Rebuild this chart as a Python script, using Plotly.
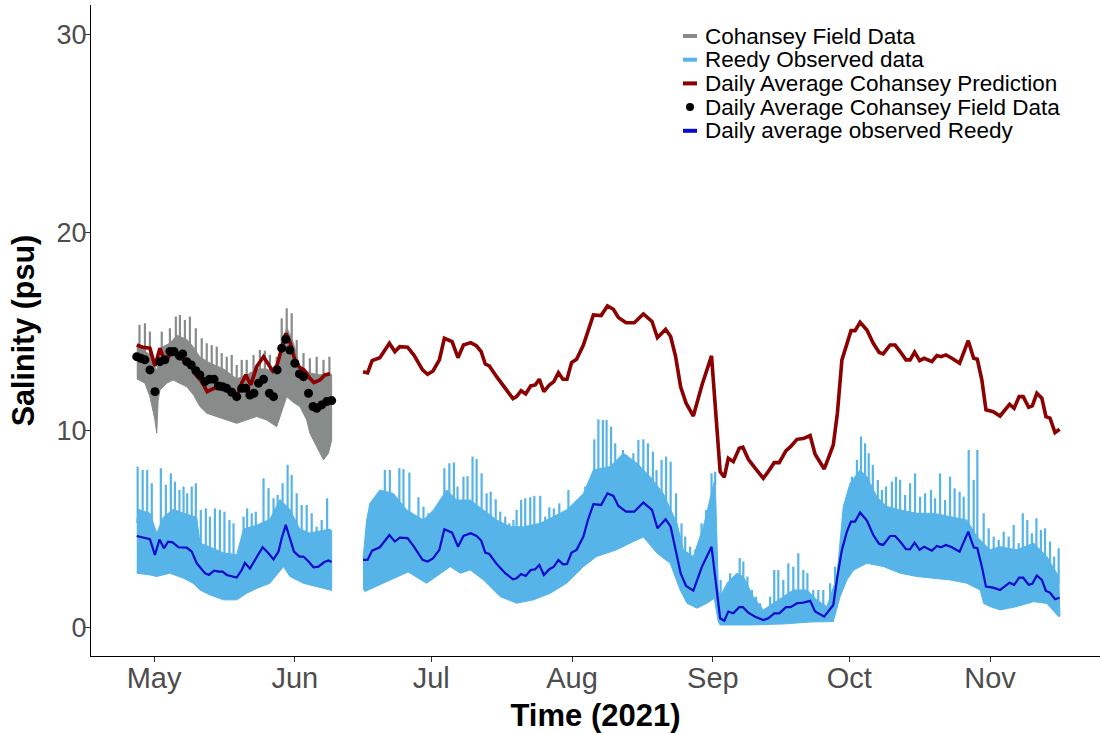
import numpy as np
import pandas as pd
import plotly.graph_objects as go

START = pd.Timestamp("2021-05-01")  # day 0 of all day arrays

# ---------------- Cohansey field data (tidal record, first deployment) ----------------
GRAY_TOP_DAY = [-3.8, -3.5, -0.9, 0.6, 1.7, 3.5, 5.0, 7.2, 8.7, 10.1, 12.3, 15.3, 18.2, 20.4,
                22.6, 24.8, 27.0, 28.1, 29.2, 30.7, 32.1, 34.3, 36.5, 38.7, 39.1]
GRAY_TOP = [14.2, 14.3, 13.8, 13.0, 14.2, 14.4, 14.8, 14.6, 14.2, 13.7, 13.4, 13.1, 12.6, 12.8,
            13.1, 13.1, 12.8, 14.2, 15.2, 14.4, 13.2, 12.9, 12.8, 12.9, 12.8]
GRAY_LOW_DAY = [-3.8, -3.5, -2.0, -0.9, 0.2, 0.6, 0.9, 1.3, 2.8, 4.2, 5.7, 7.2, 8.7, 10.1, 11.6,
                13.8, 16.0, 18.2, 20.4, 22.6, 24.8, 27.0, 29.2, 30.7, 32.1, 33.6, 34.3, 35.8,
                37.3, 38.4, 39.1]
GRAY_LOW = [12.6, 12.54, 12.38, 11.7, 10.52, 9.85, 11.5, 12.03, 12.38, 12.54, 12.38, 12.2, 11.78,
            11.2, 10.86, 10.69, 10.52, 10.35, 10.52, 10.69, 10.52, 10.18, 11.7, 11.4, 11.2, 10.52,
            9.85, 9.17, 8.5, 8.84, 9.5]
GRAY_SPIKE_DAY = [-3.2, -2.0, -0.9, 1.7, 3.5, 4.8, 5.7, 6.8, 7.9, 9.2, 10.5, 11.6, 12.7, 13.8,
                  14.9, 16.0, 17.1, 18.2, 19.3, 20.4, 21.9, 23.3, 24.4, 25.5, 27.0, 28.1, 29.2,
                  30.3, 31.4, 32.9, 34.3, 35.8, 37.3, 38.6]
GRAY_SPIKE_TOP = [15.33, 15.41, 14.99, 14.99, 15.16, 15.75, 15.83, 15.58, 15.75, 15.16, 14.65,
                  14.4, 14.31, 14.23, 13.9, 13.72, 13.81, 13.3, 13.56, 13.56, 13.81, 14.06, 14.02,
                  13.81, 13.72, 15.66, 16.17, 15.92, 14.57, 13.9, 13.64, 13.72, 13.56, 13.72]

# ---------------- Reedy observed data (tidal record) ----------------
REEDY1_LOW_DAY = [-3.8, -0.9, 0.6, 3.5, 6.5, 8.6, 10.1, 12.3, 15.3, 18.2, 20.4, 22.6, 25.5, 28.5,
                  29.9, 32.9, 35.8, 38.7, 39.1]
REEDY1_LOW = [2.77, 2.68, 2.6, 2.77, 2.51, 2.26, 1.92, 1.67, 1.42, 1.42, 1.75, 2.0, 2.26, 3.1,
              2.6, 2.26, 2.09, 1.92, 1.9]
REEDY1_TOP_DAY = [-3.8, -3.5, -0.9, 0.6, 2.05, 4.25, 6.5, 9.4, 10.1, 12.3, 15.3, 18.2, 19.7,
                  22.6, 25.5, 27.7, 29.9, 32.1, 34.3, 36.5, 38.7, 39.1]
REEDY1_TOP = [5.3, 6.0, 5.8, 4.8, 5.6, 6.0, 5.8, 5.6, 4.3, 4.1, 3.8, 3.7, 5.0, 5.2, 5.5, 6.5,
              6.0, 5.0, 4.8, 4.9, 5.0, 4.9]
REEDY1_SPIKE_DAY = [-3.6, -2.5, -1.5, -0.5, 1.5, 2.6, 3.7, 4.6, 5.6, 6.5, 7.3, 8.3, 9.2, 10.3,
                    11.4, 12.3, 13.4, 14.5, 15.5, 16.6, 17.5, 19.7, 20.5, 21.5, 22.4, 24.1, 25.2,
                    26.3, 27.2, 28.3, 29.4, 30.3, 31.4, 32.5, 33.6, 34.7, 35.8, 36.9, 38.1]
REEDY1_SPIKE_TOP = [8.16, 7.99, 7.99, 7.32, 8.08, 7.24, 7.82, 7.4, 6.98, 7.15, 6.81, 7.15, 7.32,
                    5.97, 6.05, 5.63, 6.05, 5.97, 5.88, 5.46, 5.29, 5.63, 6.05, 5.8, 5.88, 7.57,
                    7.07, 6.56, 6.73, 7.32, 8.25, 7.74, 6.81, 6.22, 6.22, 5.8, 5.12, 5.46, 6.56]

REEDY2_LOW_DAY = [46.0, 46.4, 50.5, 55.9, 60.0, 62.2, 65.2, 67.4, 69.6, 72.5, 76.2, 79.8, 83.5,
                  87.2, 90.8, 94.5, 97.4, 101.8, 105.5, 107.7, 110.7, 113.6, 115.8, 117.3, 119.5,
                  121.7, 123.3, 124.2, 124.6, 131.2, 138.5, 144.4, 149.5, 151.0, 152.5, 154.0,
                  156.9, 160.6, 164.2, 167.9, 171.6, 175.2, 178.9, 181.8, 182.6, 184.0, 186.2,
                  189.9, 193.6, 196.5, 199.1, 199.4]
REEDY2_LOW = [2.0, 1.84, 2.26, 2.83, 2.26, 2.6, 3.1, 2.77, 2.93, 2.43, 1.58, 1.25, 1.42, 1.75,
              2.26, 3.1, 3.61, 3.95, 4.37, 4.6, 3.78, 3.27, 1.92, 1.25, 1.0, 1.25, 1.5, 0.3, 0.15,
              0.15, 0.2, 0.3, 0.32, 1.58, 2.43, 2.93, 3.27, 3.1, 2.77, 2.6, 2.51, 2.43, 2.26,
              1.92, 1.24, 1.08, 0.91, 1.08, 1.33, 1.24, 0.57, 0.6]
REEDY2_TOP_DAY = [46.0, 46.8, 47.5, 49.7, 52.7, 55.6, 59.3, 61.5, 64.4, 66.6, 69.6, 72.5, 75.4,
                  78.4, 81.3, 85.0, 87.9, 90.8, 94.5, 96.7, 100.4, 103.3, 106.3, 109.2, 112.1,
                  115.1, 116.5, 118.7, 120.9, 123.1, 123.5, 124.2, 124.6, 126.1, 128.3, 129.7,
                  131.9, 134.1, 136.3, 138.5, 140.7, 143.7, 145.9, 148.1, 150.3, 151.7, 153.2,
                  155.4, 156.9, 159.1, 161.3, 164.2, 167.9, 171.6, 175.2, 178.9, 181.1, 184.0,
                  186.2, 189.9, 193.6, 196.5, 199.1, 199.4]
REEDY2_TOP = [3.5, 5.46, 6.3, 6.98, 6.8, 5.97, 5.46, 5.97, 6.98, 6.47, 6.47, 5.97, 5.46, 5.12,
              5.12, 5.29, 5.63, 5.97, 6.8, 7.99, 8.16, 8.84, 8.33, 7.65, 6.8, 5.29, 3.95, 3.61,
              5.12, 7.32, 7.6, 2.0, 1.58, 2.26, 2.77, 2.6, 1.58, 0.91, 1.24, 1.58, 1.92, 1.92,
              1.41, 1.08, 2.6, 6.14, 7.32, 7.99, 7.65, 6.63, 6.14, 5.97, 5.8, 5.8, 5.63, 5.46,
              4.62, 3.95, 4.11, 3.95, 4.29, 3.61, 2.6, 1.0]
REEDY2_SPIKE_DAY = [50.8, 51.9, 54.0, 54.9, 56.2, 58.2, 59.3, 60.4, 63.9, 65.0, 66.0, 66.8, 68.1,
                    69.0, 70.1, 71.0, 72.1, 73.2, 74.1, 75.2, 76.2, 77.3, 78.2, 79.1, 79.8, 80.8,
                    81.7, 82.8, 83.7, 85.0, 86.1, 87.0, 88.0, 89.2, 90.1, 91.2, 94.9, 96.0, 96.9,
                    97.8, 98.8, 99.6, 100.6, 101.5, 103.2, 104.0, 105.5, 106.6, 107.7, 108.7,
                    109.8, 110.6, 111.7, 112.7, 113.7, 114.9, 116.1, 116.9, 118.0, 119.1, 120.5,
                    121.5, 122.7, 123.5,
                    124.7, 125.7, 126.8, 127.9, 128.9, 129.7, 130.6, 131.6, 132.5, 133.4, 134.5,
                    135.6, 136.5, 137.4, 138.5, 139.6, 140.7, 141.8, 142.9, 143.8, 145.1, 146.2,
                    147.3, 148.8, 149.9, 152.5, 153.6, 154.7, 155.6, 156.5, 157.3, 158.2, 159.3,
                    160.2, 161.1, 162.4, 163.3, 164.2, 165.3, 166.4, 167.5, 168.6, 169.7, 171.0,
                    171.9, 173.0, 174.1, 175.2, 176.2, 177.3, 178.2, 179.3, 180.4, 181.2, 182.6,
                    183.7, 184.8, 185.9, 187.0, 188.1, 189.2, 190.3, 191.2, 192.2, 193.2, 194.2,
                    195.2, 196.1, 197.2, 198.1, 199.1]
REEDY2_SPIKE_TOP = [7.99, 7.99, 8.08, 8.03, 7.86, 6.61, 6.14, 5.80, 8.08, 8.33, 8.37, 7.15, 7.65,
                    7.68, 8.67, 8.54, 7.82, 6.81, 6.89, 6.51, 5.88, 5.63, 5.29, 5.46, 5.97, 6.47,
                    6.56, 6.61, 6.68, 6.68, 5.63, 6.10, 6.05, 6.30, 5.63, 6.98, 7.15, 7.49, 9.54,
                    10.55, 10.52, 10.52, 10.18, 9.34, 9.00, 8.75, 8.84, 9.51, 9.54, 9.34, 8.92,
                    7.99, 8.50, 8.67, 8.41, 6.81, 5.29, 4.62, 4.11, 3.95, 5.29, 5.97, 7.82, 7.90,
                    2.43, 1.92, 2.77, 2.6, 3.53, 3.36, 2.6, 1.92, 1.58, 1.24, 0.91, 1.58, 2.93,
                    2.93, 2.43, 3.27, 3.1, 3.78, 2.93, 2.77, 1.92, 1.92, 1.92, 2.26, 3.1, 5.97,
                    7.65, 8.5, 9.68, 9.34, 8.84, 8.25, 7.49, 6.98, 7.15, 7.4, 7.65, 7.49, 6.73,
                    7.32, 7.82, 6.64, 6.81, 6.98, 6.56, 7.82, 6.47, 7.65, 7.06, 6.89, 6.64, 9.0,
                    7.49, 9.0, 5.8, 5.04, 4.62, 4.45, 4.87, 4.62, 5.21, 4.29, 5.8, 5.46, 4.79,
                    5.55, 4.96, 5.04, 4.37, 3.61, 4.03]

# ---------------- Daily averages ----------------
RED1_DAY = [-3.8, -2.5, -0.9, 0.2, 1.3, 2.4, 3.5, 4.6, 5.7, 7.2, 8.3, 9.2, 10.5, 11.7, 12.7, 13.8,
            14.9, 16.0, 17.1, 18.2, 19.3, 20.2, 21.3, 22.6, 24.1, 25.3, 26.1, 27.1, 28.1, 29.0,
            29.9, 31.0, 32.0, 33.0, 34.3, 35.2, 36.5, 37.6, 38.7]
RED1 = [14.31, 14.2, 14.15, 13.25, 14.15, 13.47, 13.81, 13.86, 13.66, 13.47, 13.25, 12.8, 12.46,
        11.95, 12.07, 12.17, 12.17, 12.03, 11.87, 11.7, 12.38, 12.8, 12.29, 13.22, 13.72, 13.25,
        13.0, 13.3, 14.23, 14.9, 14.48, 13.56, 13.19, 13.05, 12.63, 12.41, 12.54, 12.8, 12.85]
BLUE1_DAY = [-3.8, -2.0, -0.9, 0.2, 1.2, 2.2, 3.1, 4.1, 5.4, 7.2, 8.3, 9.4, 11.2, 12.1, 13.2, 14.2,
             15.1, 16.0, 17.1, 18.2, 19.3, 20.0, 21.1, 22.6, 23.9, 25.2, 26.3, 27.4, 28.1, 29.0,
             29.9, 30.8, 32.0, 32.9, 34.0, 35.1, 36.2, 37.4, 38.4, 39.1]
BLUE1 = [4.65, 4.54, 4.49, 3.69, 4.47, 4.03, 4.36, 4.33, 4.08, 4.06, 3.86, 3.27, 2.77, 2.68, 2.9,
         2.85, 2.85, 2.68, 2.63, 2.55, 2.93, 3.29, 3.0, 3.61, 4.08, 3.78, 3.47, 3.86, 4.54, 5.21,
         4.54, 3.86, 3.61, 3.61, 3.36, 3.07, 3.1, 3.32, 3.41, 3.34]
DAILY2_DAY = [46, 47, 48, 49.7, 51.8, 53, 54.1, 55.8, 57.2, 59.1, 60.2, 61.4, 62.8, 63.9, 65.6,
              66.9, 68.1, 69.7, 71, 72, 72.9, 73.8, 75.4, 77.3, 79, 79.8, 80.8, 81.8, 82.9, 83.9,
              84.8, 85.8, 87, 88, 89, 90, 90.9, 91.9, 93, 94.5, 95.5, 96.7, 98.4, 99.8, 101.1,
              102.2, 103.9, 105.7, 107.7, 109.6, 110.8, 112.6, 113.7, 114.8, 115.9, 117.1, 118.7,
              120.6, 122.7, 124.6, 125.5, 126.4, 127.5, 128.8, 129.6, 130.8, 132.3, 134.1, 135.2,
              136.5, 137.6, 139.1, 140.1, 141.5, 142.9, 144.4, 145.5, 147.5, 148.4, 149.5, 150.4,
              151.4, 152.5, 153.4, 154.3, 155.4, 156.9, 158.3, 159.6, 160.5, 162, 163.1, 164.2,
              165.5, 166.4, 167.4, 168.5, 169.5, 171.2, 172.3, 173.2, 174.3, 175.6, 177.3, 179.2,
              180.4, 181.2, 182.2, 183.1, 184.7, 186.2, 187.3, 188.3, 189.3, 190.4, 191.3, 192.5,
              193.3, 194.3, 195.4, 196.3, 197.2, 198.3, 199.3]
BLUE2 = [3.44, 3.44, 3.91, 4.08, 4.70, 4.37, 4.57, 4.54, 4.11, 3.44, 3.36, 3.52, 3.95, 4.99, 4.82,
         4.11, 4.65, 4.79, 4.65, 4.42, 3.81, 3.74, 3.24, 2.77, 2.46, 2.51, 2.73, 2.63, 2.93, 2.97,
         3.19, 2.68, 2.97, 3.10, 3.44, 3.22, 3.24, 3.81, 3.95, 4.62, 5.46, 6.26, 6.22, 6.81, 6.68,
         6.17, 5.88, 5.88, 6.34, 5.97, 5.04, 5.50, 5.12, 3.95, 2.77, 2.12, 1.89, 3.10, 4.11, 0.49,
         0.37, 0.83, 0.74, 1.05, 1.05, 0.77, 0.57, 0.40, 0.49, 0.74, 0.74, 1.05, 1.05, 1.25, 1.28,
         1.37, 0.83, 0.57, 0.83, 1.16, 2.60, 3.95, 4.87, 5.38, 5.38, 5.84, 5.43, 4.70, 4.25, 4.20,
         4.65, 4.65, 4.37, 3.98, 3.98, 4.31, 3.95, 4.11, 3.91, 4.15, 4.08, 4.20, 4.08, 3.86, 4.87,
         4.08, 4.03, 3.10, 2.09, 2.04, 1.92, 2.09, 2.29, 2.18, 2.54, 2.54, 2.18, 2.23, 2.65, 2.43,
         1.87, 1.79, 1.45, 1.53]
RED2 = [12.96, 12.90, 13.52, 13.67, 14.40, 13.98, 14.23, 14.20, 13.80, 13.05, 12.83, 13.00, 13.56,
        14.65, 14.48, 13.67, 14.31, 14.43, 14.26, 13.98, 13.35, 13.25, 12.71, 12.10, 11.60, 11.70,
        12.00, 11.84, 12.24, 12.29, 12.58, 11.95, 12.29, 12.46, 12.91, 12.58, 12.58, 13.42, 13.59,
        14.31, 15.07, 15.83, 15.80, 16.29, 16.12, 15.70, 15.44, 15.44, 15.88, 15.50, 14.68, 15.11,
        14.74, 13.72, 12.20, 11.37, 10.72, 12.29, 13.76, 7.91, 7.62, 8.58, 8.41, 9.09, 9.14, 8.53,
        8.08, 7.57, 7.91, 8.36, 8.36, 8.97, 9.17, 9.54, 9.58, 9.73, 8.79, 8.04, 8.58, 9.26, 10.86,
        13.56, 14.37, 15.04, 15.04, 15.46, 15.07, 14.40, 13.93, 13.86, 14.31, 14.31, 13.98, 13.56,
        13.56, 13.95, 13.52, 13.64, 13.47, 13.78, 13.72, 13.81, 13.64, 13.39, 14.53, 13.64, 13.59,
        12.54, 11.03, 10.94, 10.72, 11.03, 11.31, 11.11, 11.70, 11.70, 11.16, 11.23, 11.87, 11.62,
        10.69, 10.61, 9.88, 10.05]
DOT_DAY = [-3.8, -2.9, -2.0, -0.9, 0.2, 1.3, 2.4, 3.5, 4.4, 5.6, 6.3, 7.2, 8.2, 9.2, 10.1, 11.2,
           12.2, 13.2, 14.2, 15.1, 16.0, 17.1, 18.2, 19.3, 20.2, 21.1, 22.0, 23.0, 24.1, 25.4,
           26.3, 27.1, 28.1, 29.0, 29.9, 31.0, 32.0, 32.9, 34.0, 35.0, 35.8, 36.9, 38.0, 39.1]
DOT_VAL = [13.72, 13.64, 13.56, 13.05, 11.95, 13.47, 13.56, 13.98, 13.98, 13.76, 13.86, 13.47,
           13.3, 13.01, 12.8, 12.46, 12.58, 12.58, 12.24, 12.2, 12.12, 11.92, 11.7, 12.12, 12.12,
           11.78, 11.87, 12.38, 12.58, 11.87, 11.7, 13.05, 14.15, 14.6, 14.06, 13.39, 12.85,
           12.71, 11.87, 11.2, 11.11, 11.28, 11.45, 11.5]

MONTH_TICKS = ["2021-05-01", "2021-06-01", "2021-07-01", "2021-08-01", "2021-09-01",
               "2021-10-01", "2021-11-01"]
MONTH_LABELS = ["May", "Jun", "Jul", "Aug", "Sep", "Oct", "Nov"]
Y_TICKS = [0, 10, 20, 30]

LEGEND_LABELS = ["Cohansey Field Data", "Reedy Observed data", "Daily Average Cohansey Prediction",
                 "Daily Average Cohansey Field Data", "Daily average observed Reedy"]

GRAY = "#878b8a"
SKY = "#56B4E9"
DARKRED = "#8B0000"
BLUE = "#0a0acd"
LEGEND_COLORS = [GRAY, SKY, DARKRED, "black", BLUE]


def dates(days):
    return [START + pd.Timedelta(days=float(d)) for d in days]


def band(top_days, top, low_days, low, color):
    x = dates(top_days) + dates(low_days[::-1])
    y = list(top) + list(low[::-1])
    return go.Scatter(x=x, y=y, mode="lines", fill="toself", fillcolor=color,
                      line=dict(color=color, width=1), showlegend=False, hoverinfo="skip")


def spikes(sp_days, sp_top, top_days, top, color, width):
    base = np.interp(sp_days, top_days, top)
    xs, ys = [], []
    for d, t, b in zip(sp_days, sp_top, base):
        dt = START + pd.Timedelta(days=float(d))
        xs += [dt, dt, None]
        ys += [b - 0.4, t, None]
    return go.Scatter(x=xs, y=ys, mode="lines", line=dict(color=color, width=width),
                      showlegend=False, hoverinfo="skip")


fig = go.Figure()
fig.add_trace(band(GRAY_TOP_DAY, GRAY_TOP, GRAY_LOW_DAY, GRAY_LOW, GRAY))
fig.add_trace(spikes(GRAY_SPIKE_DAY, GRAY_SPIKE_TOP, GRAY_TOP_DAY, GRAY_TOP, GRAY, 2.2))
fig.add_trace(band(REEDY1_TOP_DAY, REEDY1_TOP, REEDY1_LOW_DAY, REEDY1_LOW, SKY))
fig.add_trace(spikes(REEDY1_SPIKE_DAY, REEDY1_SPIKE_TOP, REEDY1_TOP_DAY, REEDY1_TOP, SKY, 2.2))
fig.add_trace(band(REEDY2_TOP_DAY, REEDY2_TOP, REEDY2_LOW_DAY, REEDY2_LOW, SKY))
fig.add_trace(spikes(REEDY2_SPIKE_DAY, REEDY2_SPIKE_TOP, REEDY2_TOP_DAY, REEDY2_TOP, SKY, 2.2))

fig.add_trace(go.Scatter(x=dates(RED1_DAY) + [None] + dates(DAILY2_DAY), y=RED1 + [None] + RED2,
                         mode="lines", line=dict(color=DARKRED, width=3.6),
                         name=LEGEND_LABELS[2], showlegend=False))
fig.add_trace(go.Scatter(x=dates(DOT_DAY), y=DOT_VAL, mode="markers",
                         marker=dict(color="black", size=9), name=LEGEND_LABELS[3],
                         showlegend=False))
fig.add_trace(go.Scatter(x=dates(BLUE1_DAY) + [None] + dates(DAILY2_DAY), y=BLUE1 + [None] + BLUE2,
                         mode="lines", line=dict(color=BLUE, width=2.2),
                         name=LEGEND_LABELS[4], showlegend=False))

# ---- hand-placed legend (ggplot-style compact keys) ----
W, H = 1100, 733
L, R, T, B = 91, 0, 5, 77
PW, PH = W - L - R, H - T - B


def px_x(p):
    return (p - L) / PW


def px_y(p):
    return 1 - (p - T) / PH


shapes = []
annotations = []
for i, (lab, col) in enumerate(zip(LEGEND_LABELS, LEGEND_COLORS)):
    yc = 36 + i * 23.7
    annotations.append(dict(x=px_x(703), y=px_y(yc), xref="paper", yref="paper", text=lab,
                            showarrow=False, xanchor="left", yanchor="middle",
                            font=dict(size=22.5, color="black")))
    if i == 3:
        shapes.append(dict(type="circle", xref="paper", yref="paper", fillcolor="black",
                           line=dict(color="black", width=0),
                           x0=px_x(686), x1=px_x(694), y0=px_y(yc + 4), y1=px_y(yc - 4)))
    else:
        shapes.append(dict(type="line", xref="paper", yref="paper",
                           x0=px_x(683), x1=px_x(697), y0=px_y(yc), y1=px_y(yc),
                           line=dict(color=col, width=4)))

fig.update_layout(
    width=W, height=H,
    margin=dict(l=L, r=R, t=T, b=B),
    paper_bgcolor="white", plot_bgcolor="white",
    font=dict(family="Liberation Sans, Arial, sans-serif", color="black"),
    showlegend=False,
    shapes=shapes, annotations=annotations,
)
fig.update_xaxes(
    type="date",
    range=[START - pd.Timedelta(days=13.87), START + pd.Timedelta(days=208.2)],
    tickvals=MONTH_TICKS, ticktext=MONTH_LABELS,
    tickfont=dict(size=29, color="#4d4d4d"),
    ticks="outside", ticklen=5, tickcolor="#333333",
    ticklabelstandoff=-9,
    showline=True, linecolor="black", linewidth=1.2, showgrid=False, zeroline=False,
    title=dict(text="<b>Time (2021)</b>", font=dict(size=31, color="black"), standoff=12),
)
fig.update_yaxes(
    range=[-1.42, 31.51],
    tickvals=Y_TICKS,
    tickfont=dict(size=27, color="#4d4d4d"),
    ticks="outside", ticklen=5, tickcolor="#333333",
    ticklabelstandoff=-7,
    showline=True, linecolor="black", linewidth=1.2, showgrid=False, zeroline=False,
    title=dict(text="<b>Salinity (psu)</b>", font=dict(size=30.5, color="black"), standoff=12),
)

fig.write_html("out.html")
